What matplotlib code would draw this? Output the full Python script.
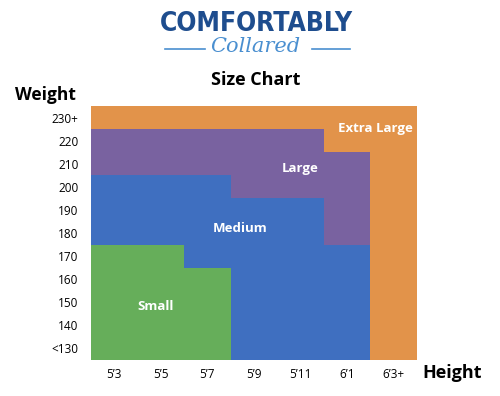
import numpy as np
import matplotlib.pyplot as plt
from matplotlib.lines import Line2D

heights = ["5\u20193", "5\u20195", "5\u20197", "5\u20199", "5\u201911", "6\u20191", "6\u20193+"]
weights = ["<130", "140", "150", "160", "170", "180", "190", "200", "210", "220", "230+"]

# top edge (in weight rows) of each size band, one value per height column
sizes = ["Small", "Medium", "Large", "Extra Large"]
small_top = [5, 5, 4, 0, 0, 0, 0]
medium_top = [8, 8, 8, 7, 7, 5, 0]
large_top = [10, 10, 10, 10, 10, 9, 0]
xl_top = [11, 11, 11, 11, 11, 11, 11]

colors = ["#66AE5A", "#3F6FC0", "#7962A0", "#E2934A"]
label_pos = [(1.38, 2.3), (3.2, 5.7), (4.49, 8.3), (6.1, 10.05)]

plt.rcParams['font.family'] = ['Open Sans', 'DejaVu Sans']

fig = plt.figure(figsize=(5, 3.96), dpi=100)
ax = fig.add_axes([0.182, 0.0909, 0.652, 0.641])

x = np.arange(len(heights))
prev = np.zeros(len(heights))
for name, top, c in zip(sizes, [small_top, medium_top, large_top, xl_top], colors):
    top = np.array(top, dtype=float)
    h = np.where(top > 0, top - prev, 0)
    ax.bar(x, h, bottom=prev, width=1.0, align='edge', color=c, linewidth=0)
    prev = np.maximum(prev, top)

for name, (lx, ly) in zip(sizes, label_pos):
    ax.text(lx, ly, name, color='white', fontsize=9.5, fontweight='bold',
            ha='center', va='center')

ax.set_xlim(0, len(heights))
ax.set_ylim(0, len(weights))
ax.set_xticks(x + 0.5)
ax.set_xticklabels(heights)
ax.set_yticks(np.arange(len(weights)) + 0.5)
ax.set_yticklabels(weights)
ax.tick_params(length=0, labelsize=8.5)
ax.tick_params(axis='y', pad=9)
ax.tick_params(axis='x', pad=6)
for s in ax.spines.values():
    s.set_visible(False)

# headings
fig.text(0.09, 0.76, "Weight", fontsize=12.5, fontweight='bold', ha='center', va='center')
fig.text(0.905, 0.058, "Height", fontsize=13, fontweight='bold', ha='center', va='center')
fig.text(0.512, 0.798, "Size Chart", fontsize=13, fontweight='bold', ha='center', va='center')

# logo
fig.text(0.513, 0.94, "COMFORTABLY", fontsize=19, fontweight='bold', color='#1E4D8E',
         family='DejaVu Sans', fontstretch='condensed', ha='center', va='center')
fig.text(0.51, 0.883, "Collared", fontsize=15, style='italic', color='#4A8FD0',
         family='DejaVu Serif', ha='center', va='center')
fig.add_artist(Line2D([0.33, 0.41], [0.877, 0.877], color='#4A8FD0', lw=1.2))
fig.add_artist(Line2D([0.624, 0.70], [0.877, 0.877], color='#4A8FD0', lw=1.2))

fig.savefig("out.png", dpi=100)
